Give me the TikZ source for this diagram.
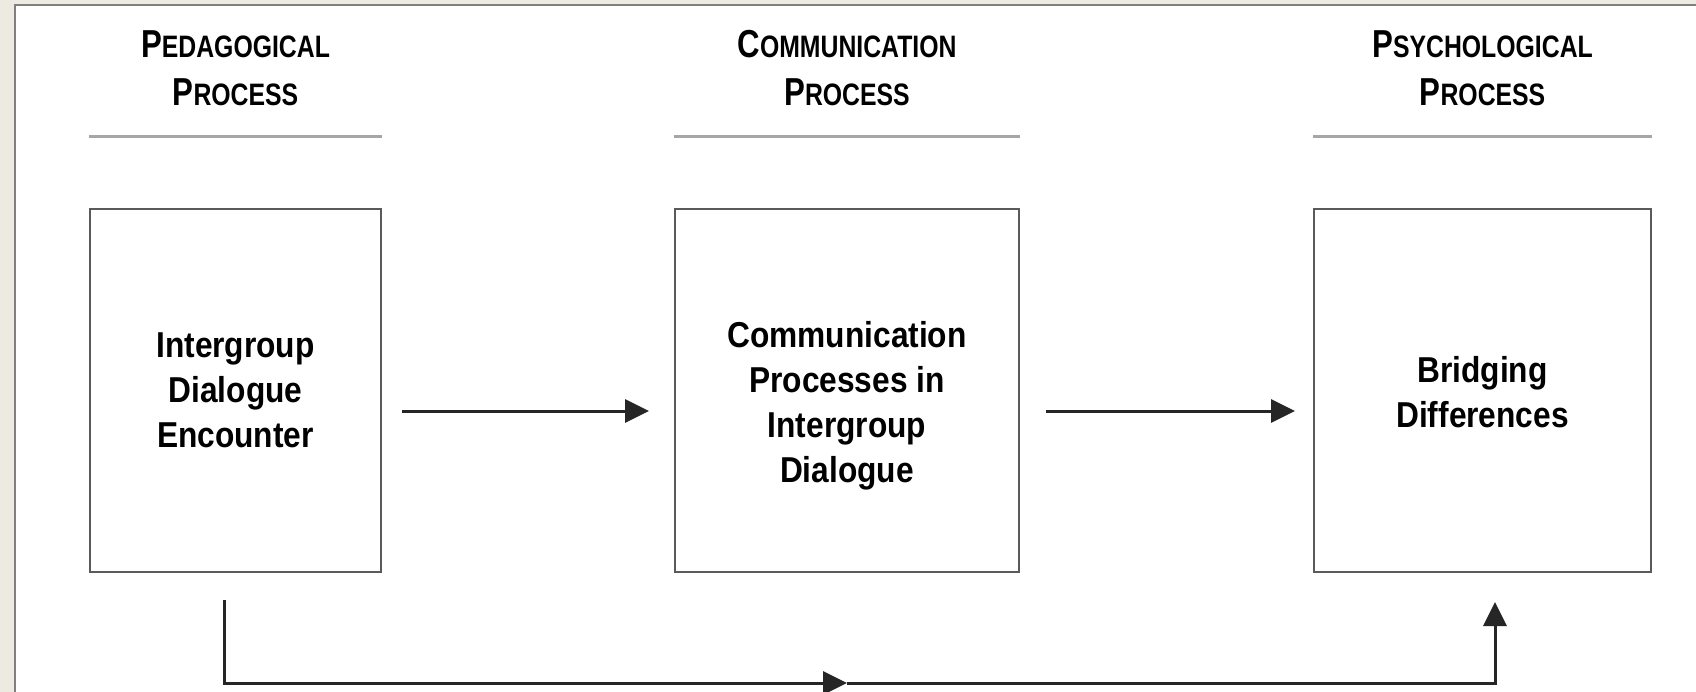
\documentclass[tikz,border=0pt]{standalone}
\usepackage{fontspec}
\setmainfont{Liberation Sans}
\newfontfamily\boxfont[FakeStretch=0.88]{Liberation Sans}
\newfontfamily\headfont[FakeStretch=0.8]{Liberation Sans}
\usetikzlibrary{arrows.meta}
\definecolor{pagebg}{HTML}{EDEAE2}
\definecolor{boxline}{HTML}{5A5A5A}
\definecolor{ruleline}{HTML}{A6A6A6}
\newcommand{\capsword}[2]{#1{\fontsize{31}{48}\selectfont #2}}

\begin{document}
\begin{tikzpicture}[
  x=1pt, y=-1pt,
  procbox/.style={draw=boxline,line width=2pt,minimum height=362pt,inner sep=0pt},
  boxtext/.style={font=\boxfont\bfseries\fontsize{36}{45}\selectfont,align=center,inner sep=0pt},
  headtext/.style={font=\headfont\bfseries\fontsize{39}{48}\selectfont,align=center,inner sep=0pt},
  headrule/.style={draw=ruleline,line width=2.5pt},
  flow/.style={draw=black!85,line width=3pt,-{Triangle[length=24pt,width=23pt]}}
]
  \useasboundingbox (0,0) rectangle (1696,692);
  % page
  \fill[pagebg] (0,0) rectangle (1696,692);
  \fill[white] (15,5) rectangle (1696,692);
  \draw[draw=black!50,line width=2.5pt] (15,692) -- (15,5) -- (1696,5);

  % process headings
  \node[headtext] (pedhead) at (235.5,68) {\capsword{P}{EDAGOGICAL}\\\capsword{P}{ROCESS}};
  \node[headtext] (commhead) at (847,68) {\capsword{C}{OMMUNICATION}\\\capsword{P}{ROCESS}};
  \node[headtext] (psyhead) at (1482.5,68) {\capsword{P}{SYCHOLOGICAL}\\\capsword{P}{ROCESS}};

  % boxes
  \node[procbox,minimum width=291pt] (pedbox) at (235.5,390.5) {};
  \node[procbox,minimum width=344pt] (commbox) at (847,390.5) {};
  \node[procbox,minimum width=337pt] (psybox) at (1482.5,390.5) {};

  % box texts
  \node[boxtext] (pedtext) at (pedbox.center) {Intergroup\\Dialogue\\Encounter};
  \node[boxtext] (commtext) at ([yshift=-15pt]commbox.center) {Communication\\Processes in\\Intergroup\\Dialogue};
  \node[boxtext] (psytext) at ([yshift=-2pt]psybox.center) {Bridging\\Differences};

  % heading rules
  \draw[headrule] ([yshift=72pt]pedbox.north west) -- ([yshift=72pt]pedbox.north east);
  \draw[headrule] ([yshift=72pt]commbox.north west) -- ([yshift=72pt]commbox.north east);
  \draw[headrule] ([yshift=72pt]psybox.north west) -- ([yshift=72pt]psybox.north east);

  % main arrows
  \draw[flow,shorten <=20pt,shorten >=25pt] ([yshift=-20.5pt]pedbox.east) -- ([yshift=-20.5pt]commbox.west);
  \draw[flow,shorten <=26pt,shorten >=18pt] ([yshift=-20.5pt]commbox.east) -- ([yshift=-20.5pt]psybox.west);

  % direct path below
  \coordinate (loopstart) at (224,600);
  \coordinate (loopmid) at (847,683);
  \coordinate (loopend) at (1495,602);
  \draw[flow] (loopstart) |- (loopmid);
  \draw[flow] (loopmid) -| (loopend);

\end{tikzpicture}
\end{document}
